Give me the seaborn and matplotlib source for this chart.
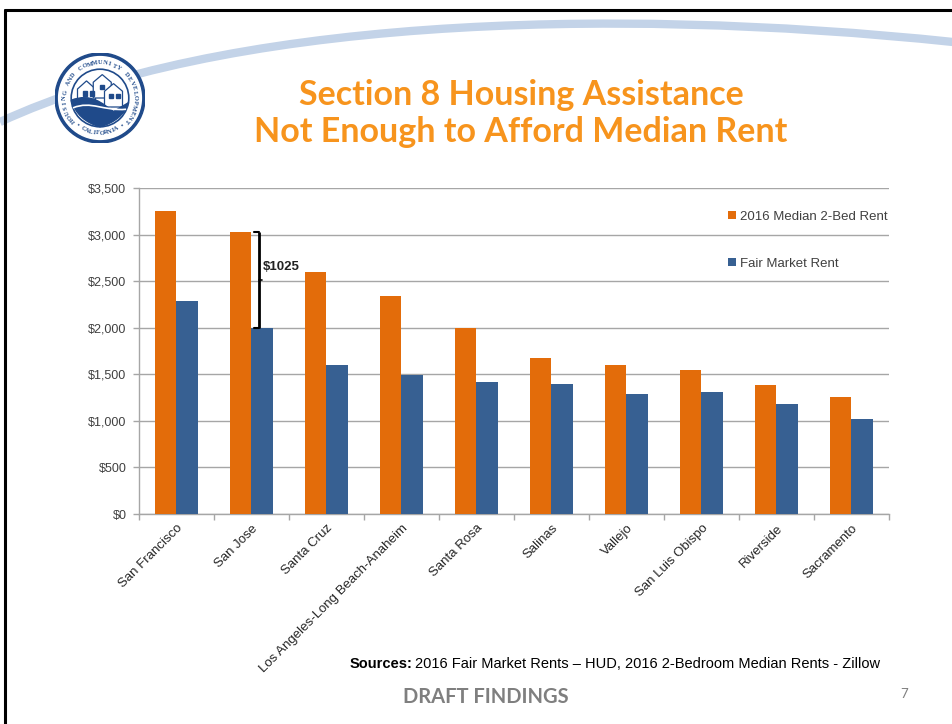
import numpy as np
import pandas as pd
import matplotlib
matplotlib.use("Agg")
import matplotlib.pyplot as plt
import seaborn as sns
from matplotlib.patches import Circle, PathPatch, Polygon
from matplotlib.path import Path
from matplotlib.lines import Line2D

# data
cities = ['San Francisco', 'San Jose', 'Santa Cruz', 'Los Angeles-Long Beach-Anaheim',
          'Santa Rosa', 'Salinas', 'Vallejo', 'San Luis Obispo', 'Riverside', 'Sacramento']
median_rent = [3250, 3025, 2600, 2345, 2000, 1680, 1595, 1550, 1390, 1260]
fair_market_rent = [2290, 2000, 1600, 1490, 1415, 1395, 1285, 1305, 1180, 1020]
series_names = ['2016 Median 2-Bed Rent', 'Fair Market Rent']
yticks = [0, 500, 1000, 1500, 2000, 2500, 3000, 3500]

ORANGE = '#E36C0A'
BLUE = '#376092'
TITLE_ORANGE = '#F7941D'
LOGO_BLUE = '#1F4A8A'

df = pd.DataFrame({
    'City': cities * 2,
    'Rent': median_rent + fair_market_rent,
    'Series': [series_names[0]] * len(cities) + [series_names[1]] * len(cities),
})

sns.set_theme(style='white')
plt.rcParams['font.family'] = ['Liberation Sans', 'DejaVu Sans']

W, H = 953, 724
fig = plt.figure(figsize=(W / 100, H / 100), dpi=100)
fig.patch.set_facecolor('white')

def fx(px):
    return px / W

def fy(py):
    return 1 - py / H

# slide decoration: swoosh (behind everything)
swoosh = Path([(fx(0), fy(122)), (fx(220), fy(20)), (fx(600), fy(5)), (fx(953), fy(42))],
              [Path.MOVETO, Path.CURVE4, Path.CURVE4, Path.CURVE4])
fig.add_artist(PathPatch(swoosh, transform=fig.transFigure, fill=False,
                         edgecolor='#C3D3E8', lw=6, capstyle='butt', zorder=-5))

# slide frame
fig.add_artist(Line2D([fx(5), fx(953)], [fy(10), fy(10)], color='black', lw=2.2))
fig.add_artist(Line2D([fx(5), fx(5)], [fy(10), fy(724)], color='black', lw=2.2))

# logo (HCD seal)
lax = fig.add_axes([fx(55), fy(143), fx(90), 90 / H])
lax.set_zorder(5)
lax.set_xlim(-1, 1)
lax.set_ylim(-1, 1)
lax.set_aspect('equal')
lax.axis('off')
lax.add_patch(Circle((0, 0), 1.0, color=LOGO_BLUE))
lax.add_patch(Circle((0, 0), 0.92, color='white'))
lax.add_patch(Circle((0, 0), 0.64, facecolor='white', edgecolor=LOGO_BLUE, lw=1.2))
# houses
for pts in [[(-0.5, -0.1), (-0.5, 0.2), (-0.3, 0.38), (-0.1, 0.2), (-0.1, -0.1)],
            [(-0.15, 0.0), (-0.15, 0.35), (0.05, 0.52), (0.25, 0.35), (0.25, 0.0)],
            [(0.1, -0.2), (0.1, 0.15), (0.3, 0.32), (0.5, 0.15), (0.5, -0.2)]]:
    lax.add_patch(Polygon(pts, closed=True, facecolor='white', edgecolor=LOGO_BLUE, lw=0.9))
for wx, wy in [(-0.38, 0.05), (-0.22, 0.05), (0.0, 0.2), (0.2, 0.0), (0.36, 0.0)]:
    lax.add_patch(Polygon([(wx, wy), (wx + 0.08, wy), (wx + 0.08, wy + 0.1), (wx, wy + 0.1)],
                          closed=True, color=LOGO_BLUE))
wave = Path([(-0.64, -0.05), (-0.2, 0.12), (0.05, -0.12), (0.3, -0.3), (0.64, -0.1),
             (0.5, -0.5), (0.0, -0.64), (-0.5, -0.5), (-0.64, -0.05)],
            [Path.MOVETO, Path.CURVE4, Path.CURVE4, Path.CURVE4, Path.LINETO,
             Path.CURVE3, Path.CURVE3, Path.CURVE3, Path.CURVE3])
lax.add_patch(PathPatch(wave, color=LOGO_BLUE))
lax.add_patch(PathPatch(Path([(-0.6, -0.22), (-0.2, -0.05), (0.1, -0.3), (0.58, -0.25)],
                             [Path.MOVETO, Path.CURVE4, Path.CURVE4, Path.CURVE4]),
                        fill=False, edgecolor='white', lw=1.2))
ring_top = 'HOUSING AND COMMUNITY DEVELOPMENT'
for i, ch in enumerate(ring_top):
    a = np.deg2rad(220 - i * 260 / (len(ring_top) - 1))
    lax.text(0.78 * np.cos(a), 0.78 * np.sin(a), ch, rotation=np.rad2deg(a) - 90,
             ha='center', va='center', fontsize=4.6, fontweight='bold', color=LOGO_BLUE,
             family=['Liberation Serif', 'DejaVu Serif'])
ring_bot = '\u2022 CALIFORNIA \u2022'
for i, ch in enumerate(ring_bot):
    a = np.deg2rad(230 + i * 80 / (len(ring_bot) - 1))
    lax.text(0.78 * np.cos(a), 0.78 * np.sin(a), ch, rotation=np.rad2deg(a) + 90,
             ha='center', va='center', fontsize=4.6, fontweight='bold', color=LOGO_BLUE,
             family=['Liberation Serif', 'DejaVu Serif'])

# title
for ty, line in [(95, 'Section 8 Housing Assistance'), (132, 'Not Enough to Afford Median Rent')]:
    fig.text(fx(521), fy(ty), line, ha='center', va='center', color=TITLE_ORANGE,
             fontsize=24.5, fontweight='bold', family=['Lato', 'DejaVu Sans'])

# chart
ax = fig.add_axes([fx(139), fy(514), fx(889 - 139), (514 - 188) / H])
sns.barplot(data=df, x='City', y='Rent', hue='Series', order=cities, hue_order=series_names,
            palette={series_names[0]: ORANGE, series_names[1]: BLUE},
            width=0.58, gap=0, saturation=1, linewidth=0, edgecolor='none', ax=ax, zorder=3)

ax.set_ylim(0, 3500)
ax.set_xlim(-0.5, len(cities) - 0.5)
ax.set_yticks(yticks)
ax.set_yticklabels([f'${v:,}' for v in yticks], fontsize=9, color='#404040')
ax.yaxis.grid(True, color='#A6A6A6', lw=1, zorder=0)
ax.set_axisbelow(True)
ax.set_xlabel('')
ax.set_ylabel('')
for s in ['top', 'right']:
    ax.spines[s].set_visible(False)
for s in ['left', 'bottom']:
    ax.spines[s].set_color('#A6A6A6')
    ax.spines[s].set_linewidth(1)
ax.tick_params(axis='y', left=True, length=4, width=1, color='#A6A6A6', pad=5)
ax.tick_params(axis='x', which='major', bottom=False, length=0, pad=6)
ax.set_xticks(np.arange(len(cities) + 1) - 0.5, minor=True)
ax.tick_params(axis='x', which='minor', bottom=True, length=4, width=1, color='#A6A6A6')
ax.set_xticks(range(len(cities)))
ax.set_xticklabels(cities, rotation=45, ha='right', rotation_mode='anchor',
                   fontsize=9.5, color='#262626')

leg = ax.legend(loc='upper left', bbox_to_anchor=(0.777, 0.95), frameon=False,
                fontsize=9.5, handlelength=0.6, handleheight=0.6, handletextpad=0.25,
                labelspacing=2.64, borderpad=0)
for t in leg.get_texts():
    t.set_color('#404040')

# $1025 gap bracket on San Jose
gap = median_rent[1] - fair_market_rent[1]
bx = 1.1
ax.plot([bx, bx], [fair_market_rent[1], median_rent[1]], color='black', lw=2, zorder=5,
        solid_capstyle='butt')
ax.plot([bx - 0.06, bx], [median_rent[1], median_rent[1]], color='black', lw=1.5, zorder=5)
ax.plot([bx - 0.06, bx], [fair_market_rent[1], fair_market_rent[1]], color='black', lw=1.5, zorder=5)
ax.plot([bx, bx + 0.04], [(median_rent[1] + fair_market_rent[1]) / 2] * 2, color='black', lw=1.2, zorder=5)
ax.text(bx + 0.05, 2650, f'${gap}', fontsize=9.5, fontweight='bold', color='#222222',
        ha='left', va='center', zorder=6)

# footer
fig.text(fx(350), fy(664), 'Sources:', fontsize=10.5, fontweight='bold', color='black',
         ha='left', va='center')
fig.text(fx(415), fy(664), '2016 Fair Market Rents \u2013 HUD, 2016 2-Bedroom Median Rents - Zillow',
         fontsize=10.5, color='black', ha='left', va='center')
fig.text(fx(486), fy(697), 'DRAFT FINDINGS', fontsize=14.5, fontweight='bold', color='#7F7F7F',
         ha='center', va='center', family=['Lato', 'DejaVu Sans'])
fig.text(fx(904), fy(694), '7', fontsize=9.5, color='#7F7F7F', ha='center', va='center',
         family=['Lato', 'DejaVu Sans'])

fig.savefig('out.png', dpi=100, facecolor='white')
